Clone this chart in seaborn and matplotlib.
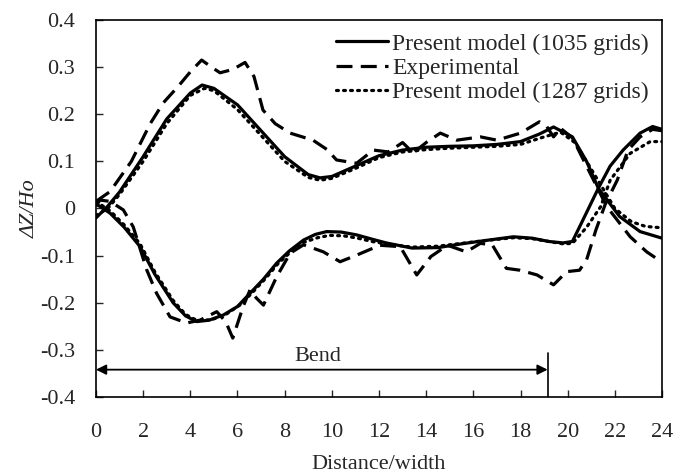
import matplotlib
matplotlib.use("Agg")
import matplotlib.pyplot as plt
import seaborn as sns
import pandas as pd

# ---- data ----
sol_up_x = [0, 0.5, 1, 2, 3, 4, 4.5, 5, 6, 7, 8, 9, 9.5, 10, 11, 12, 13, 14, 15, 16, 17, 18, 18.8, 19.4, 20.2, 20.8, 21.3, 22.2, 23.07, 24]
sol_up_y = [-0.02, 0.005, 0.035, 0.11, 0.19, 0.245, 0.262, 0.255, 0.22, 0.165, 0.11, 0.072, 0.065, 0.068, 0.09, 0.112, 0.124, 0.13, 0.132, 0.133, 0.136, 0.142, 0.158, 0.173, 0.152, 0.1, 0.043, -0.017, -0.049, -0.063]

dot_up_x = [0, 0.5, 1, 2, 3, 4, 4.6, 5, 6, 7, 8, 9, 9.5, 10, 11, 12, 13, 14, 15, 16, 17, 18, 19, 19.7, 20.3, 20.8, 21.4, 22, 22.7, 23.3, 24]
dot_up_y = [-0.015, 0.0, 0.03, 0.1, 0.18, 0.24, 0.255, 0.25, 0.21, 0.155, 0.1, 0.066, 0.06, 0.064, 0.085, 0.108, 0.12, 0.125, 0.128, 0.13, 0.132, 0.136, 0.152, 0.162, 0.14, 0.1, 0.05, 0.0, -0.028, -0.038, -0.041]

exp_up_x = [0, 0.6, 1.5, 2.3, 2.85, 3.5, 4.0, 4.48, 4.9, 5.26, 5.8, 6.32, 6.7, 7.08, 7.6, 8.23, 9.2, 9.8, 10.2, 11.05, 11.76, 12.4, 13.0, 13.45, 14.0, 14.6, 15.3, 16.3, 17.0, 18.0, 18.8, 19.1, 19.4, 19.7, 20.2, 20.8, 21.66, 22.65, 23.35, 24]
exp_up_y = [0.015, 0.036, 0.1, 0.18, 0.224, 0.26, 0.29, 0.315, 0.3, 0.288, 0.295, 0.31, 0.28, 0.209, 0.18, 0.16, 0.145, 0.125, 0.103, 0.096, 0.124, 0.12, 0.14, 0.118, 0.14, 0.16, 0.145, 0.152, 0.145, 0.16, 0.184, 0.175, 0.152, 0.17, 0.15, 0.09, 0.004, -0.06, -0.092, -0.114]

sol_lo_x = [0, 0.6, 1.2, 1.87, 2.5, 3.27, 3.8, 4.27, 4.8, 5.4, 6.0, 6.53, 7.1, 7.66, 8.2, 8.8, 9.3, 9.78, 10.4, 11.05, 11.7, 12.3, 13.4, 14.5, 15.5, 16.5, 17.7, 18.5, 19.2, 19.8, 20.2, 20.65, 21.3, 21.8, 22.35, 23.07, 23.6, 24]
sol_lo_y = [0.01, -0.01, -0.04, -0.081, -0.14, -0.2, -0.228, -0.24, -0.237, -0.226, -0.208, -0.18, -0.15, -0.116, -0.09, -0.067, -0.055, -0.049, -0.05, -0.056, -0.065, -0.073, -0.084, -0.083, -0.075, -0.068, -0.06, -0.063, -0.07, -0.073, -0.07, -0.024, 0.043, 0.09, 0.124, 0.16, 0.174, 0.168]

dot_lo_x = [0, 0.6, 1.2, 1.87, 2.5, 3.27, 3.8, 4.3, 4.9, 5.5, 6.1, 6.6, 7.2, 7.7, 8.3, 8.8, 9.4, 9.9, 10.5, 11.1, 11.7, 12.3, 13.4, 14.5, 15.5, 16.5, 17.7, 18.5, 19.2, 19.8, 20.2, 20.8, 21.4, 21.8, 22.65, 23.5, 24]
dot_lo_y = [0.015, -0.005, -0.035, -0.075, -0.135, -0.195, -0.225, -0.238, -0.236, -0.225, -0.205, -0.18, -0.148, -0.118, -0.09, -0.072, -0.062, -0.057, -0.058, -0.063, -0.07, -0.075, -0.082, -0.08, -0.074, -0.068, -0.062, -0.064, -0.07, -0.075, -0.074, -0.04, 0.004, 0.06, 0.117, 0.142, 0.142]

exp_lo_x = [0, 0.17, 0.6, 1.16, 1.58, 2.15, 2.57, 3.14, 3.84, 4.41, 5.12, 5.5, 5.8, 6.24, 6.53, 6.8, 7.1, 7.66, 8.23, 8.8, 9.64, 10.35, 11.05, 12.04, 12.9, 13.6, 14.2, 14.9, 15.7, 16.3, 16.8, 17.4, 17.98, 18.7, 19.4, 19.96, 20.5, 20.8, 21.2, 21.6, 22.1, 22.56, 23.07, 23.6, 24]
exp_lo_y = [0.005, 0.018, 0.015, -0.003, -0.039, -0.13, -0.18, -0.23, -0.243, -0.237, -0.219, -0.24, -0.275, -0.208, -0.173, -0.19, -0.205, -0.145, -0.095, -0.077, -0.092, -0.113, -0.099, -0.078, -0.081, -0.141, -0.102, -0.078, -0.092, -0.074, -0.077, -0.127, -0.131, -0.141, -0.162, -0.134, -0.131, -0.109, -0.045, 0.01, 0.06, 0.124, 0.152, 0.168, 0.165]

x_ticks = [0, 2, 4, 6, 8, 10, 12, 14, 16, 18, 20, 22, 24]
y_ticks = [-0.4, -0.3, -0.2, -0.1, 0, 0.1, 0.2, 0.3, 0.4]
y_tick_labels = ["-0.4", "-0.3", "-0.2", "-0.1", "0", "0.1", "0.2", "0.3", "0.4"]
bend_end = 19.15

labels = ["Present model (1035 grids)", "Experimental", "Present model (1287 grids)"]

# ---- style ----
sns.set_style("ticks")
plt.rcParams['font.family'] = ['Liberation Serif', 'DejaVu Serif']

fig = plt.figure(figsize=(6.73, 4.73), dpi=100)
ax = fig.add_axes([0.1426, 0.1607, 0.8411, 0.797])

FS = 16
FS_LEG = 17
lw = 2.3
dash = (5, 2.6)
dots = (0.6, 1.6)

def df(x, y):
    return pd.DataFrame({"x": x, "y": y})

sns.lineplot(data=df(sol_up_x, sol_up_y), x="x", y="y", ax=ax, color="black", lw=lw, label=labels[0], sort=False)
sns.lineplot(data=df(exp_up_x, exp_up_y), x="x", y="y", ax=ax, color="black", lw=lw, label=labels[1], sort=False)
sns.lineplot(data=df(dot_up_x, dot_up_y), x="x", y="y", ax=ax, color="black", lw=lw, label=labels[2], sort=False)
sns.lineplot(data=df(sol_lo_x, sol_lo_y), x="x", y="y", ax=ax, color="black", lw=lw, sort=False)
sns.lineplot(data=df(exp_lo_x, exp_lo_y), x="x", y="y", ax=ax, color="black", lw=lw, sort=False)
sns.lineplot(data=df(dot_lo_x, dot_lo_y), x="x", y="y", ax=ax, color="black", lw=lw, sort=False)

lines = ax.get_lines()
for i in (1, 4):
    lines[i].set_dashes(dash)
for i in (2, 5):
    lines[i].set_dashes(dots)
    lines[i].set_dash_capstyle('round')

ax.set_xlim(0, 24)
ax.set_ylim(-0.4, 0.4)
ax.set_xticks(x_ticks)
ax.set_xticklabels([str(t) for t in x_ticks])
ax.set_yticks(y_ticks)
ax.set_yticklabels(y_tick_labels)
ax.tick_params(direction="in", length=5, width=1, labelsize=FS,
               top=False, right=False)
ax.tick_params(axis="x", pad=19)
ax.tick_params(axis="y", pad=15)
for s in ax.spines.values():
    s.set_linewidth(1.2)
    s.set_visible(True)
    s.set_color("black")

ax.set_xlabel("Distance/width", fontsize=FS, labelpad=9)
ax.set_ylabel("ΔZ/Ho", fontsize=FS, style="italic", labelpad=0)

# Bend annotation
ax.annotate("", xy=(0, -0.342), xytext=(bend_end, -0.342),
            arrowprops=dict(arrowstyle="<|-|>", color="black", lw=1.3,
                            mutation_scale=15, shrinkA=0, shrinkB=0))
ax.plot([bend_end, bend_end], [-0.4, -0.307], color="black", lw=1.2)
ax.text(9.4, -0.334, "Bend", ha="center", va="bottom", fontsize=FS)

leg = ax.legend(loc="upper right", frameon=False, fontsize=FS_LEG, handlelength=2.2,
                handletextpad=0.2, labelspacing=0.12, borderaxespad=0.15)

fig.savefig("out.png", dpi=100)
